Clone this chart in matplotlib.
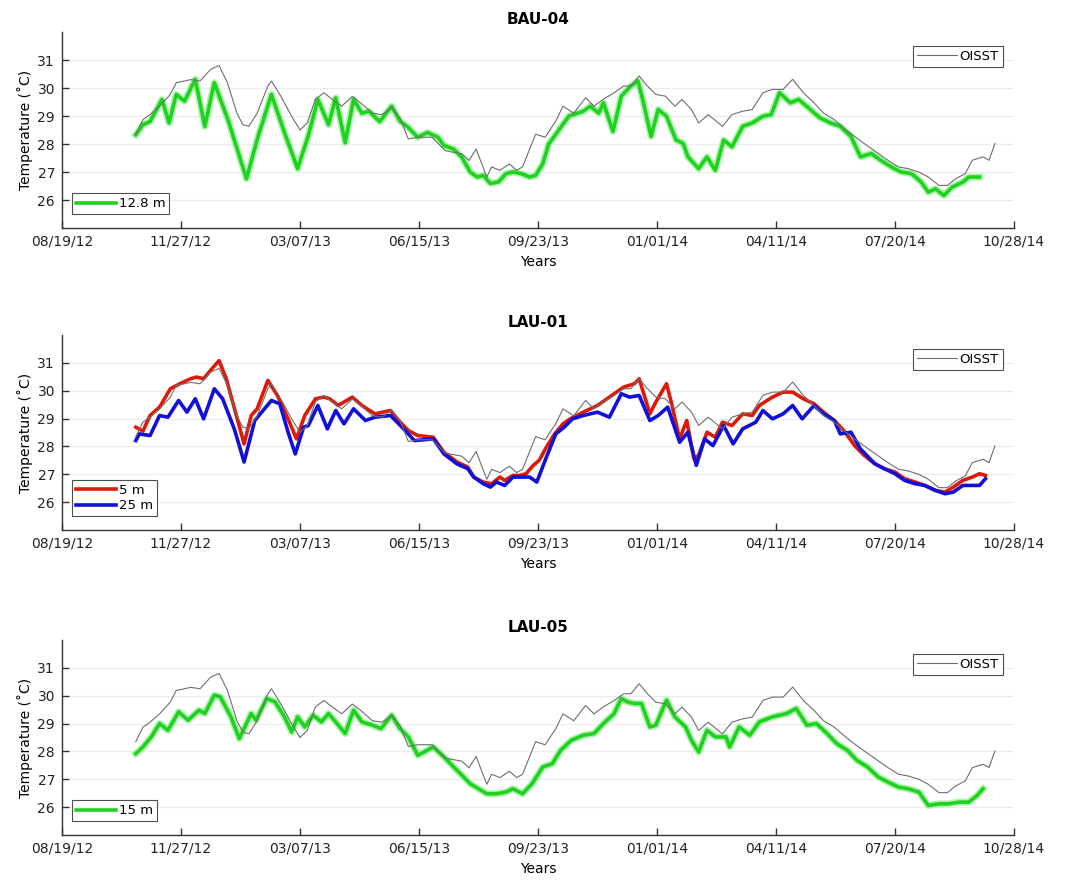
import numpy as np
import pandas as pd
import matplotlib
matplotlib.use("Agg")
import matplotlib.pyplot as plt
import matplotlib.dates as mdates

START = "2012-08-19"

# ---- OISST (same satellite series in every panel): days since START, temperature
oisst_day = [62, 68, 74, 82, 91, 96, 103, 108, 116, 125, 132, 139, 147, 152, 157, 164, 173, 176,
             184, 193, 200, 206, 213, 220, 227, 235, 244, 251, 261, 269, 277, 284, 291, 299, 311,
             322, 336, 342, 348, 357, 361, 368, 376, 382, 387, 398, 406, 415, 421, 430, 440, 447,
             455, 464, 472, 478, 485, 492, 499, 507, 515, 521, 529, 535, 543, 555, 563, 572, 580,
             589, 597, 606, 614, 623, 632, 640, 649, 657, 666, 674, 686, 694, 703, 711, 720, 728,
             737, 744, 751, 759, 765, 774, 779, 784]
oisst_val = [28.35, 28.87, 29.05, 29.35, 29.77, 30.19, 30.25, 30.3, 30.25, 30.67, 30.8, 30.19,
             29.1, 28.69, 28.63, 29.1, 30.07, 30.25, 29.7, 28.99, 28.5, 28.75, 29.6, 29.83, 29.6,
             29.35, 29.7, 29.47, 29.1, 29.05, 29.3, 28.93, 28.18, 28.24, 28.24, 27.76, 27.65,
             27.41, 27.82, 26.82, 27.18, 27.06, 27.29, 27.06, 27.18, 28.35, 28.24, 28.82, 29.35,
             29.1, 29.65, 29.35, 29.6, 29.83, 30.07, 30.07, 30.43, 30.07, 29.77, 29.71, 29.35,
             29.59, 29.23, 28.75, 29.05, 28.63, 29.05, 29.17, 29.23, 29.83, 29.95, 29.95, 30.31,
             29.83, 29.47, 29.1, 28.87, 28.57, 28.27, 28.02, 27.66, 27.42, 27.18, 27.12, 27.0,
             26.82, 26.52, 26.52, 26.76, 26.94, 27.42, 27.54, 27.42, 28.02]

# ---- BAU-04, 12.8 m
bau04_day = [62, 68, 74, 84, 90, 96, 103, 112, 120, 128, 140, 155, 165, 176, 187, 198, 207, 215,
             224, 230, 238, 245, 252, 258, 267, 277, 284, 291, 299, 307, 316, 321, 329, 336, 343,
             349, 354, 360, 367, 373, 379, 386, 393, 398, 404, 409, 417, 426, 430, 438, 444, 451,
             455, 463, 470, 478, 484, 488, 495, 501, 508, 516, 522, 526, 535, 542, 549, 556, 563,
             572, 580, 589, 596, 603, 612, 619, 629, 637, 646, 654, 663, 671, 680, 688, 697, 705,
             714, 722, 728, 734, 741, 748, 757, 762, 771]
bau04_val = [28.33, 28.69, 28.8, 29.59, 28.75, 29.77, 29.53, 30.31, 28.63, 30.19, 28.8, 26.76,
             28.3, 29.77, 28.4, 27.12, 28.3, 29.59, 28.69, 29.65, 28.05, 29.59, 29.1, 29.17, 28.8,
             29.35, 28.82, 28.59, 28.24, 28.41, 28.24, 27.94, 27.82, 27.53, 27.0, 26.82, 26.88,
             26.59, 26.65, 26.94, 27.0, 26.94, 26.82, 26.88, 27.29, 28.0, 28.47, 29.0, 29.05,
             29.17, 29.35, 29.1, 29.47, 28.45, 29.71, 30.07, 30.25, 29.59, 28.27, 29.23, 28.99,
             28.14, 28.02, 27.54, 27.12, 27.54, 27.06, 28.14, 27.9, 28.63, 28.75, 28.99, 29.05,
             29.83, 29.47, 29.59, 29.23, 28.93, 28.75, 28.63, 28.27, 27.54, 27.66, 27.42, 27.18,
             27.0, 26.94, 26.64, 26.28, 26.4, 26.16, 26.46, 26.64, 26.82, 26.82]

# ---- LAU-01, 5 m
lau01_5_day = [62, 68, 74, 82, 91, 99, 108, 113, 119, 126, 132, 138, 145, 153, 159, 164, 173, 181,
               190, 197, 204, 213, 220, 225, 232, 244, 252, 263, 276, 283, 291, 299, 312, 321, 332,
               341, 346, 354, 361, 368, 372, 379, 385, 390, 396, 401, 407, 414, 421, 427, 438, 450,
               458, 472, 481, 485, 494, 499, 508, 512, 519, 525, 531, 535, 542, 549, 555, 563, 572,
               580, 586, 597, 606, 614, 623, 632, 640, 649, 657, 666, 674, 683, 691, 700, 708, 717,
               725, 734, 742, 749, 757, 765, 771, 776]
lau01_5_val = [28.69, 28.55, 29.11, 29.41, 30.07, 30.25, 30.43, 30.49, 30.43, 30.79, 31.08, 30.43,
               29.35, 28.09, 29.11, 29.35, 30.37, 29.83, 28.99, 28.27, 29.11, 29.71, 29.77, 29.71,
               29.47, 29.77, 29.47, 29.17, 29.29, 28.93, 28.57, 28.39, 28.33, 27.79, 27.44, 27.26,
               26.9, 26.72, 26.66, 26.9, 26.78, 26.96, 26.96, 27.02, 27.32, 27.5, 27.97, 28.45,
               28.81, 28.99, 29.23, 29.47, 29.71, 30.13, 30.25, 30.43, 29.17, 29.59, 30.25, 29.59,
               28.27, 28.93, 27.56, 27.68, 28.51, 28.33, 28.87, 28.75, 29.17, 29.11, 29.47, 29.77,
               29.95, 29.95, 29.71, 29.53, 29.23, 28.93, 28.57, 28.03, 27.68, 27.38, 27.2, 27.08,
               26.84, 26.72, 26.6, 26.42, 26.36, 26.54, 26.78, 26.9, 27.02, 26.96]

# ---- LAU-01, 25 m
lau01_25_day = [62, 65, 74, 82, 89, 98, 105, 112, 119, 128, 135, 145, 153, 162, 176, 183, 190, 196,
                203, 207, 215, 223, 230, 237, 245, 255, 263, 276, 283, 291, 296, 312, 321, 332, 341,
                346, 354, 360, 365, 372, 379, 388, 393, 399, 407, 415, 422, 429, 438, 450, 460, 470,
                477, 485, 494, 501, 509, 519, 526, 533, 540, 547, 556, 564, 572, 583, 589, 597, 606,
                614, 622, 632, 640, 649, 654, 663, 671, 683, 691, 700, 708, 717, 725, 734, 742, 749,
                757, 765, 771, 776]
lau01_25_val = [28.21, 28.45, 28.39, 29.11, 29.05, 29.65, 29.23, 29.71, 28.99, 30.07, 29.71, 28.6,
                27.44, 28.93, 29.65, 29.53, 28.51, 27.73, 28.69, 28.75, 29.47, 28.63, 29.29, 28.81,
                29.35, 28.93, 29.05, 29.11, 28.81, 28.45, 28.21, 28.27, 27.73, 27.37, 27.2, 26.9,
                26.66, 26.54, 26.72, 26.6, 26.9, 26.9, 26.9, 26.72, 27.61, 28.45, 28.69, 28.99,
                29.11, 29.23, 29.05, 29.89, 29.77, 29.83, 28.93, 29.11, 29.41, 28.15, 28.51, 27.32,
                28.27, 28.03, 28.75, 28.09, 28.63, 28.87, 29.29, 28.99, 29.17, 29.47, 28.99, 29.47,
                29.17, 28.93, 28.45, 28.51, 27.91, 27.38, 27.2, 27.02, 26.78, 26.66, 26.6, 26.42,
                26.3, 26.36, 26.6, 26.6, 26.6, 26.84]

# ---- LAU-05, 15 m
lau05_day = [62, 68, 75, 82, 89, 98, 106, 115, 120, 128, 133, 142, 149, 159, 163, 172, 179, 187,
             193, 198, 204, 211, 218, 224, 230, 238, 245, 252, 261, 268, 277, 284, 291, 299, 312,
             321, 332, 343, 357, 365, 373, 379, 387, 395, 404, 412, 419, 428, 438, 447, 455, 464,
             470, 475, 481, 487, 494, 499, 508, 515, 524, 529, 535, 542, 549, 558, 561, 569, 578,
             586, 597, 609, 617, 626, 634, 643, 651, 660, 668, 677, 686, 694, 703, 711, 720, 728,
             737, 745, 754, 762, 769, 774]
lau05_val = [27.92, 28.16, 28.52, 29.0, 28.76, 29.42, 29.12, 29.48, 29.36, 30.02, 29.96, 29.24,
             28.46, 29.36, 29.12, 29.9, 29.78, 29.24, 28.7, 29.24, 28.88, 29.3, 29.06, 29.36,
             29.06, 28.64, 29.48, 29.06, 28.94, 28.82, 29.3, 28.82, 28.52, 27.86, 28.16, 27.8,
             27.32, 26.84, 26.48, 26.48, 26.54, 26.66, 26.48, 26.84, 27.44, 27.56, 28.04, 28.4,
             28.58, 28.64, 29.0, 29.36, 29.9, 29.78, 29.72, 29.72, 28.88, 28.94, 29.84, 29.24,
             28.88, 28.4, 27.98, 28.76, 28.52, 28.52, 28.16, 28.88, 28.58, 29.06, 29.24, 29.36,
             29.54, 28.94, 29.0, 28.64, 28.28, 28.04, 27.68, 27.44, 27.08, 26.9, 26.72, 26.66,
             26.54, 26.06, 26.12, 26.12, 26.18, 26.18, 26.42, 26.66]

titles = ["BAU-04", "LAU-01", "LAU-05"]
tick_dates = ["2012-08-19", "2012-11-27", "2013-03-07", "2013-06-15", "2013-09-23",
              "2014-01-01", "2014-04-11", "2014-07-20", "2014-10-28"]
yticks = [26, 27, 28, 29, 30, 31]


def to_dates(days):
    return pd.Timestamp(START) + pd.to_timedelta(np.asarray(days), unit="D")


GREEN = "#1fd21f"
GREEN_HALO = "#9af09a"
RED = "#dd1a0a"
BLUE = "#1010d8"

fig = plt.figure(figsize=(10.69, 8.80), dpi=100)
plt.rcParams["font.family"] = ["DejaVu Sans"]

W, H = 1069.0, 880.0
left = 62 / W
width = (1014 - 62) / W
tops = [32, 335, 640]
bottoms = [228, 530, 835]

series = [
    [(bau04_day, bau04_val, "12.8 m", "green")],
    [(lau01_5_day, lau01_5_val, "5 m", "red"), (lau01_25_day, lau01_25_val, "25 m", "blue")],
    [(lau05_day, lau05_val, "15 m", "green")],
]

tick_ts = pd.to_datetime(tick_dates)

for i in range(3):
    ax = fig.add_axes([left, 1 - bottoms[i] / H, width, (bottoms[i] - tops[i]) / H])
    for y in yticks:
        ax.axhline(y, color="#ececec", lw=0.8, zorder=0)
    handles = []
    for d, v, lab, kind in series[i]:
        x = to_dates(d)
        if kind == "green":
            ax.plot(x, v, color=GREEN_HALO, lw=5.0, alpha=0.8, solid_joinstyle="round", zorder=2)
            h, = ax.plot(x, v, color=GREEN, lw=2.6, solid_joinstyle="round", zorder=3, label=lab)
        elif kind == "red":
            h, = ax.plot(x, v, color=RED, lw=2.6, solid_joinstyle="round", zorder=3, label=lab)
        else:
            h, = ax.plot(x, v, color=BLUE, lw=2.6, solid_joinstyle="round", zorder=4, label=lab)
        handles.append(h)
    ho, = ax.plot(to_dates(oisst_day), oisst_val, color="#6e6e6e", lw=0.8, zorder=5, label="OISST")

    ax.set_xlim(tick_ts[0], tick_ts[-1])
    ax.set_ylim(25, 32)
    ax.set_xticks(tick_ts)
    ax.xaxis.set_major_formatter(mdates.DateFormatter("%m/%d/%y"))
    ax.set_yticks(yticks)
    for s in ["top", "right"]:
        ax.spines[s].set_visible(False)
    for s in ["left", "bottom"]:
        ax.spines[s].set_color("#333333")
        ax.spines[s].set_linewidth(1.0)
    ax.tick_params(direction="in", length=5, width=1, colors="#333333", labelsize=10,
                   labelcolor="#222222", pad=5)
    ax.set_title(titles[i], fontsize=11, fontweight="bold", pad=6)
    ax.set_xlabel("Years", fontsize=10, labelpad=4)
    ax.set_ylabel("Temperature (˚C)", fontsize=10, labelpad=3)

    leg1 = ax.legend(handles=handles, loc="lower left", bbox_to_anchor=(0.011, 0.07),
                     fontsize=9.5, frameon=True, fancybox=False, edgecolor="#222222",
                     handlelength=3.0, handletextpad=0.2, borderpad=0.3, labelspacing=0.2,
                     borderaxespad=0)
    leg1.get_frame().set_linewidth(0.8)
    ax.add_artist(leg1)
    leg2 = ax.legend(handles=[ho], loc="upper right", bbox_to_anchor=(0.988, 0.93),
                     fontsize=9.5, frameon=True, fancybox=False, edgecolor="#222222",
                     handlelength=3.0, handletextpad=0.2, borderpad=0.3, borderaxespad=0)
    leg2.get_frame().set_linewidth(0.8)

fig.savefig("out.png", dpi=100)
